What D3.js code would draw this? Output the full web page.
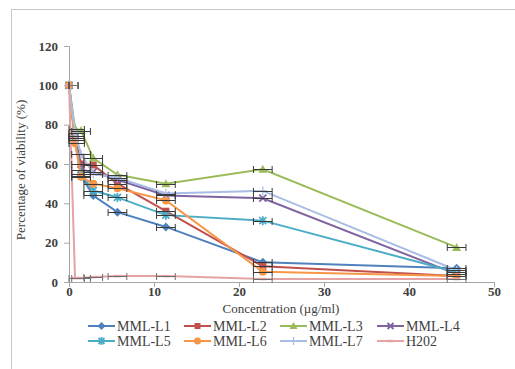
<!DOCTYPE html>
<html>
<head>
<meta charset="utf-8">
<script src="https://cdn.jsdelivr.net/npm/d3@7"></script>
<style>
  body { margin: 0; background: #fff; }
  text { font-family: "Liberation Serif", "DejaVu Serif", serif; fill: #404040; }
</style>
</head>
<body>
<svg id="chart" width="515" height="369"></svg>
<script>
// concentrations (µg/ml), doubling dilutions
const conc = [0, 0.71, 1.42, 2.85, 5.7, 11.4, 22.8, 45.6];
const concErr = [1.1, 1.1, 1.1, 1.1, 1.1, 1.1, 1.1, 1.1];

const seriesNames = ["MML-L1", "MML-L2", "MML-L3", "MML-L4", "MML-L5", "MML-L6", "MML-L7", "H202"];
const l1 = [100, 74, 54, 44, 35.5, 28, 10, 7];
const l2 = [100, 74, 60, 59.5, 50, 36, 8, 3];
const l3 = [100, 78, 77, 63, 54.5, 50, 57.3, 17.6];
const l4 = [100, 72, 57, 56, 52, 44, 42.6, 4];
const l5 = [100, 73, 55, 46.5, 43, 34, 31.2, 5];
const l6 = [100, 70.5, 53.5, 50, 47.7, 41.5, 5.2, 3];
const l7 = [100, 76, 65, 55, 53, 45, 46.3, 6];
const h2o2 = [100, 2, 2, 2.5, 3, 3, 1.5, 1.5];
const values = [l1, l2, l3, l4, l5, l6, l7, h2o2];

const colors = ["#4F81BD", "#C0504D", "#9BBB59", "#8064A2", "#4BACC6", "#F79646", "#A9BCE3", "#E6A3A3"];
const markers = ["diamond", "square", "triangle", "x", "star", "circle", "plus", "dash"];

const xTicks = [0, 10, 20, 30, 40, 50];
const yTicks = [0, 20, 40, 60, 80, 100, 120];

const svg = d3.select("#chart");

// outer chart frame
svg.append("rect")
  .attr("x", 11.5).attr("y", 9.5)
  .attr("width", 520).attr("height", 380)
  .attr("fill", "none").attr("stroke", "#c8c8c8");

const x = d3.scaleLinear().domain([0, 50]).range([69, 494]);
const y = d3.scaleLinear().domain([0, 120]).range([282, 46]);

const axisColor = "#a6a6a6";

const yAxis = svg.append("g").attr("transform", "translate(69,0)")
  .call(d3.axisLeft(y).tickValues(yTicks).tickSize(5).tickPadding(6));
const xAxis = svg.append("g").attr("transform", "translate(0,282)")
  .call(d3.axisBottom(x).tickValues(xTicks).tickSize(5).tickPadding(0));
[yAxis, xAxis].forEach(a => {
  a.select(".domain").attr("stroke", axisColor);
  a.selectAll(".tick line").attr("stroke", axisColor);
  a.selectAll("text")
    .style("font-family", "'Liberation Serif', serif")
    .style("font-size", "13px")
    .style("font-weight", "bold")
    .attr("fill", "#404040");
});

svg.append("text")
  .attr("transform", "translate(25,170) rotate(-90)")
  .attr("text-anchor", "middle")
  .style("font-size", "13px")
  .text("Percentage of viability (%)");

svg.append("text")
  .attr("x", 281).attr("y", 313)
  .attr("text-anchor", "middle")
  .style("font-size", "13px")
  .text("Concentration (µg/ml)");

const marker = (g, type, cx, cy, color, s) => {
  const h = s / 2;
  if (type === "diamond") {
    g.append("path").attr("d", `M${cx},${cy - h - 1}L${cx + h + 1},${cy}L${cx},${cy + h + 1}L${cx - h - 1},${cy}Z`).attr("fill", color);
  } else if (type === "square") {
    g.append("rect").attr("x", cx - h).attr("y", cy - h).attr("width", s).attr("height", s).attr("fill", color);
  } else if (type === "triangle") {
    g.append("path").attr("d", `M${cx},${cy - h - 1}L${cx + h + 1},${cy + h}L${cx - h - 1},${cy + h}Z`).attr("fill", color);
  } else if (type === "circle") {
    g.append("circle").attr("cx", cx).attr("cy", cy).attr("r", h + 0.5).attr("fill", color);
  } else if (type === "x") {
    g.append("path").attr("d", `M${cx - h},${cy - h}L${cx + h},${cy + h}M${cx - h},${cy + h}L${cx + h},${cy - h}`)
      .attr("stroke", color).attr("stroke-width", 1.8);
  } else if (type === "star") {
    g.append("path").attr("d", `M${cx - h},${cy - h}L${cx + h},${cy + h}M${cx - h},${cy + h}L${cx + h},${cy - h}M${cx},${cy - h - 1}L${cx},${cy + h + 1}`)
      .attr("stroke", color).attr("stroke-width", 1.8);
  } else if (type === "plus") {
    g.append("path").attr("d", `M${cx - h - 1},${cy}L${cx + h + 1},${cy}M${cx},${cy - h - 1}L${cx},${cy + h + 1}`)
      .attr("stroke", color).attr("stroke-width", 1.3);
  } else if (type === "dash") {
    g.append("path").attr("d", `M${cx - h},${cy}L${cx + h},${cy}`)
      .attr("stroke", color).attr("stroke-width", 2.5);
  }
};

const line = d3.line().x((d, i) => x(conc[i])).y(d => y(d));

const plot = svg.append("g");
values.forEach((vals, k) => {
  const g = plot.append("g");
  g.append("path").datum(vals)
    .attr("d", line)
    .attr("fill", "none")
    .attr("stroke", colors[k])
    .attr("stroke-width", 2);
  vals.forEach((v, i) => marker(g, markers[k], x(conc[i]), y(v), colors[k], 7));
});

// horizontal error bars
const errG = svg.append("g").attr("stroke-width", 1).attr("fill", "none");
values.forEach((vals, k) => {
  vals.forEach((v, i) => {
    const x0 = x(Math.max(0, conc[i] - concErr[i]));
    const x1 = x(conc[i] + concErr[i]);
    const yy = Math.round(y(v)) + 0.5;
    errG.append("path")
      .attr("stroke", k === 7 ? "#707070" : "#3a3a3a")
      .attr("d", `M${x0},${yy}L${x1},${yy}M${x0},${yy - 3.5}L${x0},${yy + 3.5}M${x1},${yy - 3.5}L${x1},${yy + 3.5}`);
  });
});

// legend
const legCols = [88, 184, 280, 377];
const legRows = [326, 341];
seriesNames.forEach((name, k) => {
  const lx = legCols[k % 4], ly = legRows[Math.floor(k / 4)];
  const g = svg.append("g");
  g.append("line").attr("x1", lx).attr("x2", lx + 27).attr("y1", ly).attr("y2", ly)
    .attr("stroke", colors[k]).attr("stroke-width", 2);
  marker(g, markers[k], lx + 13.5, ly, colors[k], 6);
  g.append("text").attr("x", lx + 29).attr("y", ly + 4.5)
    .style("font-size", "14px")
    .text(name);
});
</script>
</body>
</html>
